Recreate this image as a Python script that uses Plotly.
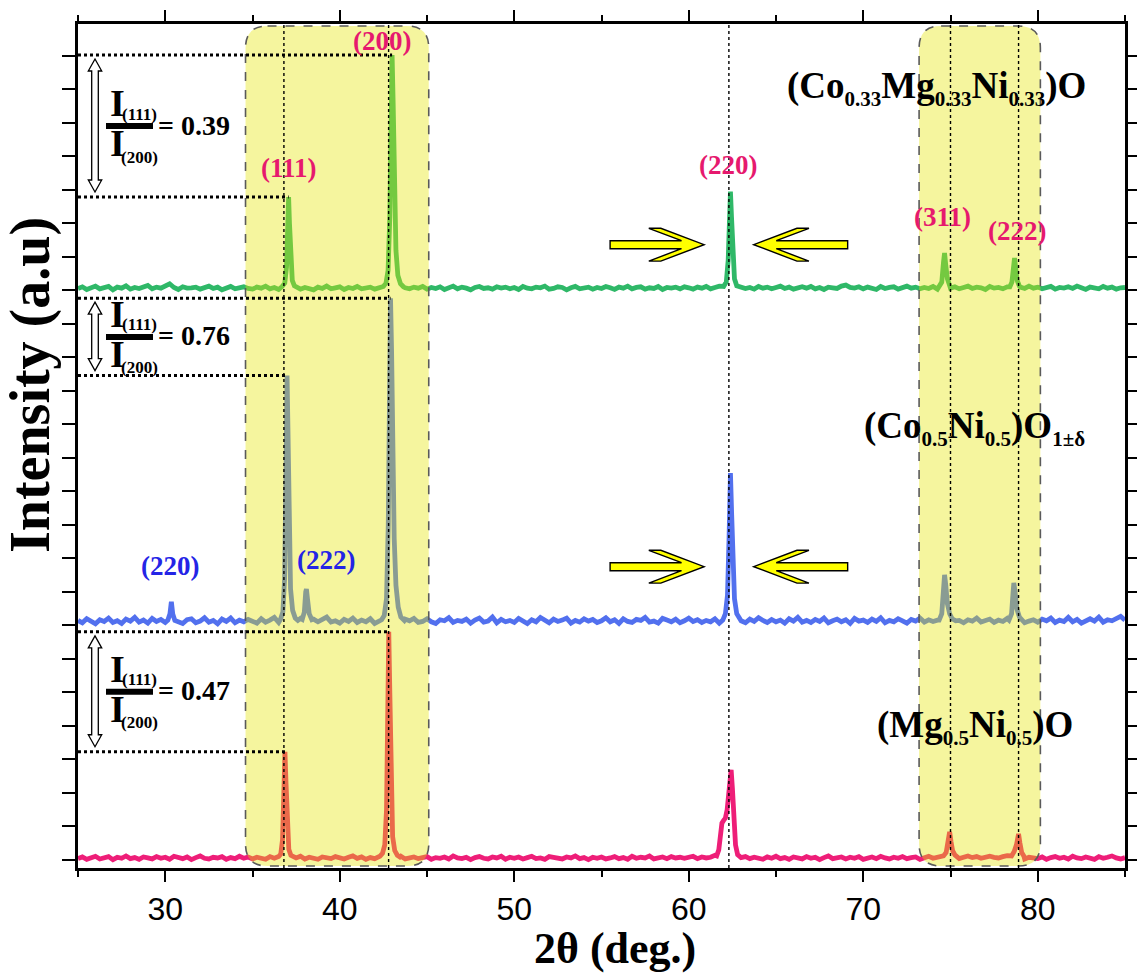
import plotly.graph_objects as go

# ---------------------------------------------------------------- data
# 2-theta sampling grid of the background scans (deg.)
two_theta_grid = [round(25 + 0.25 * i, 2) for i in range(241)]

# background counts on the grid, one row per 5 deg.
mg_ni_background = [
    4, 9, 2, 7, 11, 3, 6, 10, 1, 8, 5, 12, 4, 7, 2, 9, 6, 3, 10, 5,
    8, 2, 11, 6, 4, 9, 1, 7, 12, 5, 3, 8, 6, 10, 2, 7, 4, 11, 5, 9,
    3, 8, 6, 2, 10, 5, 7, 4, 9, 1, 6, 11, 3, 8, 5, 2, 9, 7, 4, 10,
    6, 3, 8, 12, 5, 9, 2, 7, 4, 10, 6, 1, 8, 5, 11, 3, 7, 9, 4, 6,
    10, 2, 7, 5, 9, 3, 12, 6, 4, 8, 1, 7, 10, 5, 3, 9, 6, 11, 2, 8,
    5, 9, 3, 7, 11, 4, 6, 2, 10, 8, 5, 3, 9, 6, 12, 4, 7, 1, 8, 5,
    9, 3, 6, 10, 4, 7, 2, 11, 5, 8, 6, 12, 3, 7, 9, 4, 10, 6, 8, 5,
    7, 11, 4, 9, 6, 8, 14, 10, 6, 5, 9, 3, 7, 10, 4, 8, 6, 2, 9, 5,
    11, 4, 7, 2, 9, 6, 3, 10, 5, 8, 1, 7, 12, 4, 6, 9, 3, 8, 5, 10,
    2, 7, 9, 4, 11, 6, 3, 8, 5, 10, 4, 7, 9, 2, 6, 11, 5, 8, 10, 7,
    6, 9, 4, 8, 12, 7, 10, 5, 9, 11, 8, 6, 10, 13, 9, 7, 5, 3, 8, 6,
    4, 9, 2, 7, 10, 5, 8, 3, 11, 6, 4, 9, 7, 2, 10, 5, 8, 12, 6, 3,
    7,
]
co_ni_background = [
    15, 8, 20, 11, 5, 17, 12, 22, 9, 14, 6, 19, 13, 24, 10, 16, 7, 21, 12, 18,
    9, 14, 25, 11, 6, 17, 20, 8, 13, 23, 10, 15, 5, 19, 12, 22, 8, 16, 11, 18,
    13, 7, 20, 10, 16, 24, 9, 14, 18, 6, 12, 21, 15, 8, 19, 11, 17, 25, 10, 14,
    7, 18, 12, 22, 9, 16, 11, 20, 6, 15, 13, 24, 8, 17, 10, 19, 14, 21, 9, 12,
    20, 11, 6, 17, 14, 23, 9, 15, 12, 19, 7, 16, 22, 10, 13, 25, 8, 18, 11, 15,
    9, 21, 13, 6, 17, 11, 24, 14, 8, 19, 12, 16, 22, 7, 15, 10, 20, 13, 18, 9,
    14, 23, 11, 17, 6, 20, 12, 9, 18, 15, 24, 10, 13, 7, 21, 16, 11, 19, 8, 14,
    22, 12, 17, 9, 15, 11, 20, 7, 16, 13, 21, 10, 14, 8, 19, 12, 23, 15, 9, 18,
    11, 16, 7, 20, 13, 24, 10, 15, 9, 18, 12, 22, 8, 14, 19, 11, 17, 6, 21, 13,
    16, 9, 19, 12, 23, 8, 15, 11, 20, 14, 7, 18, 13, 22, 10, 17, 12, 16, 9, 14,
    20, 11, 15, 8, 17, 13, 22, 10, 14, 19, 9, 16, 12, 21, 11, 15, 18, 8, 13, 17,
    10, 19, 14, 22, 9, 16, 12, 24, 11, 18, 7, 15, 20, 13, 25, 10, 17, 14, 21, 27,
    16,
]
co_mg_ni_background = [
    6, 11, 3, 9, 13, 5, 8, 12, 2, 10, 7, 14, 4, 9, 6, 11, 15, 5, 10, 7,
    12, 20, 9, 3, 11, 7, 8, 10, 4, 8, 13, 6, 10, 2, 9, 12, 5, 8, 11, 6,
    4, 10, 7, 13, 5, 9, 3, 11, 8, 6, 12, 4, 9, 7, 2, 10, 6, 13, 5, 8,
    11, 3, 9, 6, 12, 5, 8, 10, 4, 7, 13, 6, 9, 3, 11, 8, 5, 10, 7, 12,
    4, 9, 6, 11, 3, 8, 13, 5, 10, 7, 2, 9, 12, 6, 8, 4, 11, 7, 10, 5,
    9, 3, 12, 7, 5, 10, 8, 13, 4, 6, 11, 9, 2, 8, 12, 5, 7, 10, 4, 9,
    6, 12, 8, 3, 10, 7, 13, 5, 9, 11, 4, 8, 6, 12, 3, 9, 7, 10, 5, 11,
    8, 4, 10, 7, 12, 5, 9, 13, 6, 10, 3, 8, 11, 6, 9, 4, 12, 7, 10, 5,
    9, 13, 6, 10, 4, 8, 11, 7, 12, 5, 9, 3, 10, 8, 6, 13, 16, 9, 7, 11,
    5, 10, 8, 3, 12, 6, 9, 11, 4, 8, 13, 7, 10, 5, 9, 6, 12, 4, 8, 10,
    7, 11, 5, 9, 13, 6, 10, 8, 3, 12, 7, 9, 5, 11, 8, 4, 10, 6, 13, 7,
    10, 5, 8, 12, 4, 9, 7, 11, 6, 13, 8, 3, 10, 9, 5, 12, 7, 10, 4, 8,
    9,
]

# diffraction peaks: (2theta, counts) points across each reflection
mg_ni_peaks = [
    [(36.5, 10), (36.62, 18), (36.72, 60), (36.8, 200), (36.86, 323), (36.92, 230),
     (36.99, 95), (37.08, 32), (37.2, 14), (37.35, 9)],                                   # (111)
    [(42.3, 11), (42.45, 20), (42.58, 45), (42.68, 150), (42.75, 420), (42.81, 681),
     (42.87, 500), (42.94, 200), (43.03, 70), (43.15, 28), (43.3, 14), (43.45, 9)],        # (200)
    [(61.6, 12), (61.72, 30), (61.8, 85), (61.9, 110), (62.0, 118), (62.1, 125),
     (62.2, 150), (62.3, 215), (62.38, 262), (62.43, 269), (62.5, 215), (62.58, 120),
     (62.68, 45), (62.8, 16), (62.95, 9)],                                                 # (220)
    [(74.6, 12), (74.75, 22), (74.85, 45), (74.95, 84), (75.03, 55), (75.12, 28),
     (75.25, 15), (75.4, 10)],                                                             # (311)
    [(78.5, 12), (78.65, 25), (78.78, 45), (78.9, 78), (78.98, 50), (79.08, 22),
     (79.2, 12)],                                                                          # (222)
]
co_ni_peaks = [
    [(30.15, 16), (30.27, 35), (30.35, 71), (30.43, 34), (30.55, 15)],                    # spinel (220)
    [(36.6, 18), (36.74, 40), (36.84, 140), (36.92, 450), (36.98, 746), (37.04, 560),
     (37.1, 260), (37.18, 110), (37.3, 45), (37.45, 22), (37.6, 15)],                      # (111)
    [(37.85, 18), (37.97, 40), (38.05, 100), (38.09, 109), (38.15, 80), (38.25, 35),
     (38.4, 17)],                                                                          # spinel (222)
    [(42.4, 17), (42.55, 30), (42.68, 80), (42.78, 300), (42.85, 720), (42.91, 977),
     (42.97, 820), (43.04, 520), (43.12, 260), (43.22, 120), (43.35, 55), (43.5, 25),
     (43.7, 15)],                                                                          # (200)
    [(61.95, 16), (62.1, 35), (62.22, 90), (62.31, 260), (62.39, 455), (62.46, 330),
     (62.53, 190), (62.62, 80), (62.75, 35), (62.9, 17)],                                  # (220)
    [(74.35, 16), (74.5, 35), (74.6, 110), (74.66, 151), (74.73, 120), (74.82, 65),
     (74.95, 35), (75.1, 20), (75.3, 14)],                                                 # (311)
    [(78.35, 16), (78.5, 35), (78.58, 95), (78.63, 127), (78.7, 100), (78.8, 50),
     (78.95, 25), (79.1, 15)],                                                             # (222)
]
co_mg_ni_peaks = [
    [(36.7, 12), (36.85, 22), (36.95, 70), (37.02, 190), (37.07, 279), (37.12, 200),
     (37.19, 80), (37.28, 30), (37.4, 14), (37.55, 10)],                                   # (111)
    [(42.5, 12), (42.65, 22), (42.77, 60), (42.87, 220), (42.94, 520), (43.0, 703),
     (43.06, 560), (43.13, 300), (43.22, 120), (43.33, 45), (43.48, 20), (43.65, 11)],     # (200)
    [(62.0, 12), (62.15, 25), (62.26, 90), (62.33, 210), (62.39, 295), (62.45, 220),
     (62.52, 100), (62.62, 35), (62.75, 14)],                                              # (220)
    [(74.35, 11), (74.5, 25), (74.6, 85), (74.66, 112), (74.72, 80), (74.82, 35),
     (74.95, 15)],                                                                         # (311)
    [(78.4, 11), (78.52, 25), (78.62, 75), (78.67, 97), (78.73, 70), (78.82, 30),
     (78.95, 13)],                                                                         # (222)
]

sample_names = ["(Mg0.5Ni0.5)O", "(Co0.5Ni0.5)O1±δ", "(Co0.33Mg0.33Ni0.33)O"]
stack_offsets = [0, 700, 1700]
ratio_labels = ["0.47", "0.76", "0.39"]      # I(111)/I(200)
reference_positions = [36.8, 42.8, 62.3, 75.0, 78.9]
highlight_bands = [(34.6, 45.1), (73.2, 80.15)]
x_tick_values = [30, 40, 50, 60, 70, 80]

# ---------------------------------------------------------------- geometry
W, H = 1137, 975
ML, MR, MT, MB = 78, 12, 24, 107
X_RANGE = (25, 85)
Y_RANGE = (-24, 2495.5)
DPP = (X_RANGE[1] - X_RANGE[0]) / (W - ML - MR)     # degrees per pixel
CPP = (Y_RANGE[1] - Y_RANGE[0]) / (H - MT - MB)     # counts per pixel


def px_x(px):
    return X_RANGE[0] + (px - ML) * DPP


def px_y(py):
    return Y_RANGE[0] + (H - MB - py) * CPP


def assemble(background, peaks):
    spans = [(seg[0][0], seg[-1][0]) for seg in peaks]
    pts = [(x, y) for x, y in zip(two_theta_grid, background)
           if not any(a <= x <= b for a, b in spans)]
    for seg in peaks:
        pts.extend(seg)
    pts.sort()
    return [p[0] for p in pts], [p[1] for p in pts]


def peak_top(peaks, index):
    seg = peaks[index]
    return max(seg, key=lambda p: p[1])


def path_of(points):
    return "M " + " L ".join(f"{x:.4f},{y:.3f}" for x, y in points) + " Z"


def rounded_rect(x0, x1, y0, y1, r_px):
    rx, ry = r_px * DPP, r_px * CPP
    return (f"M {x0 + rx},{y1} L {x1 - rx},{y1} Q {x1},{y1} {x1},{y1 - ry} "
            f"L {x1},{y0 + ry} Q {x1},{y0} {x1 - rx},{y0} L {x0 + rx},{y0} "
            f"Q {x0},{y0} {x0},{y0 + ry} L {x0},{y1 - ry} Q {x0},{y1} {x0 + rx},{y1} Z")


def block_arrow(tip_x, y, direction):
    # chevron-headed arrow, outline given in pixels relative to the tip
    outline = [(-94, 4), (-22.6, 4), (-55.3, 16.4), (-43.3, 16.4), (0, 0),
               (-43.3, -16.4), (-55.3, -16.4), (-22.6, -4), (-94, -4)]
    return path_of([(tip_x + direction * dx * DPP, y + dy * CPP) for dx, dy in outline])


def double_arrow(cx_px, top, bottom):
    cx = px_x(cx_px)
    hw, sw, hl = 6.7 * DPP, 3.3 * DPP, 12 * CPP
    pts = [(cx, top), (cx + hw, top - hl), (cx + sw, top - hl), (cx + sw, bottom + hl),
           (cx + hw, bottom + hl), (cx, bottom), (cx - hw, bottom + hl),
           (cx - sw, bottom + hl), (cx - sw, top - hl), (cx - hw, top - hl)]
    return path_of(pts)


# ---------------------------------------------------------------- traces
SERIF = "Liberation Serif"
colors = ["#EE1E78", "#5270EE", "#2FB868"]
backgrounds = [mg_ni_background, co_ni_background, co_mg_ni_background]
peak_sets = [mg_ni_peaks, co_ni_peaks, co_mg_ni_peaks]

fig = go.Figure()
for name, bg, pk, off, col in zip(sample_names, backgrounds, peak_sets, stack_offsets, colors):
    xs, ys = assemble(bg, pk)
    fig.add_trace(go.Scatter(x=xs, y=[v + off for v in ys], mode="lines", name=name,
                             line=dict(color=col, width=4.8), showlegend=False,
                             hoverinfo="skip"))

shapes = []
annotations = []

# translucent highlight bands over the patterns
for x0, x1 in highlight_bands:
    shapes.append(dict(type="path", xref="x", yref="y", layer="above",
                       path=rounded_rect(x0, x1, px_y(866), px_y(26), 22),
                       fillcolor="rgba(228,228,0,0.38)",
                       line=dict(color="#5a5a5a", width=1.6, dash="dash")))

# reference line positions
for pos in reference_positions:
    shapes.append(dict(type="line", xref="x", yref="paper", x0=pos, x1=pos, y0=0, y1=1,
                       layer="above", line=dict(color="black", width=1.4, dash="dot")))

# intensity-ratio markers: indices of the (111) and (200) reflections in each peak list
ratio_peak_index = [(0, 1), (1, 3), (0, 1)]
for pk, off, (i111, i200), ratio in zip(peak_sets, stack_offsets, ratio_peak_index, ratio_labels):
    x111, y111 = peak_top(pk, i111)
    x200, y200 = peak_top(pk, i200)
    y111 += off
    y200 += off
    for xp, yp in ((x111, y111), (x200, y200)):
        shapes.append(dict(type="line", xref="x", yref="y", x0=X_RANGE[0], x1=xp, y0=yp, y1=yp,
                           layer="above", line=dict(color="black", width=3, dash="dot")))
    shapes.append(dict(type="path", xref="x", yref="y", layer="above",
                       path=double_arrow(95, y200 - 4 * CPP, y111 + 5 * CPP),
                       fillcolor="white", line=dict(color="black", width=1.3)))
    mid = (y111 + y200) / 2
    shapes.append(dict(type="line", xref="x", yref="y", x0=px_x(106), x1=px_x(153),
                       y0=mid, y1=mid, layer="above", line=dict(color="black", width=6)))
    for text, xpx, dypx, size in (("I", 117, 23, 38), ("(111)", 139, 12, 17),
                                  ("I", 117, -17, 38), ("(200)", 139, -31, 17)):
        annotations.append(dict(x=px_x(xpx), y=mid + dypx * CPP, xref="x", yref="y",
                                text=text, showarrow=False, xanchor="center", yanchor="middle",
                                font=dict(family=SERIF, size=size, color="black", weight="bold")))
    annotations.append(dict(x=px_x(156), y=mid + 1 * CPP, xref="x", yref="y",
                            text="= " + ratio, showarrow=False, xanchor="left", yanchor="middle",
                            font=dict(family=SERIF, size=28, color="black", weight="bold")))

# yellow arrows pointing at the (220) reflection
arrow_levels = [px_y(244.7), px_y(566.7)]
for yl in arrow_levels:
    for tip, d in ((reference_positions[2] - 1.42, 1), (reference_positions[2] + 1.42, -1)):
        shapes.append(dict(type="path", xref="x", yref="y", layer="above",
                           path=block_arrow(tip, yl, d), fillcolor="#FFFF00",
                           line=dict(color="black", width=1.4)))

# reflection indices
PINK, BLUE = "#E6196E", "#2424E6"
hkl_labels = [("(200)", 382, 41, PINK), ("(111)", 289, 168, PINK), ("(220)", 728, 165, PINK),
              ("(311)", 942, 217, PINK), ("(222)", 1017, 231, PINK),
              ("(220)", 170, 566, BLUE), ("(222)", 326, 560, BLUE)]
for text, xpx, ypx, col in hkl_labels:
    annotations.append(dict(x=px_x(xpx), y=px_y(ypx), xref="x", yref="y", text=text,
                            showarrow=False, xanchor="center", yanchor="middle",
                            font=dict(family=SERIF, size=27, color=col, weight="bold")))

# sample names
SUB = '<sub><span style="font-size:21px">{}</span></sub>'
name_labels = [
    ("(Mg" + SUB.format("0.5") + "Ni" + SUB.format("0.5") + ")O", 875, 727),
    ("(Co" + SUB.format("0.5") + "Ni" + SUB.format("0.5") + ")O" + SUB.format("1±δ"), 862, 428),
    ("(Co" + SUB.format("0.33") + "Mg" + SUB.format("0.33") + "Ni" + SUB.format("0.33") + ")O",
     785, 88),
]
for text, xpx, ypx in name_labels:
    annotations.append(dict(x=px_x(xpx), y=px_y(ypx), xref="x", yref="y", text=text,
                            showarrow=False, xanchor="left", yanchor="middle",
                            font=dict(family=SERIF, size=37, color="black", weight="bold")))

# axis titles
annotations.append(dict(x=(615 - ML) / (W - ML - MR), y=-(949 - (H - MB)) / (H - MT - MB),
                        xref="paper", yref="paper", text="2θ (deg.)", showarrow=False,
                        xanchor="center", yanchor="middle",
                        font=dict(family=SERIF, size=44, color="black", weight="bold")))
annotations.append(dict(x=-(ML - 30) / (W - ML - MR), y=(H - MB - 385) / (H - MT - MB),
                        xref="paper", yref="paper", text="Intensity (a.u)", showarrow=False,
                        textangle=-90, xanchor="center", yanchor="middle",
                        font=dict(family=SERIF, size=56, color="black", weight="bold")))

fig.update_layout(
    width=W, height=H,
    margin=dict(l=ML, r=MR, t=MT, b=MB, pad=0, autoexpand=False),
    paper_bgcolor="white", plot_bgcolor="white",
    shapes=shapes, annotations=annotations,
    xaxis=dict(range=list(X_RANGE), tickvals=x_tick_values, ticks="outside", ticklen=11,
               tickwidth=2.2, tickcolor="black", showline=True, linecolor="black",
               linewidth=2.5, mirror="ticks", showgrid=False, zeroline=False,
               automargin=False,
               minor=dict(dtick=5, tick0=25, ticks="outside", ticklen=6, tickwidth=2,
                          tickcolor="black", showgrid=False),
               tickfont=dict(family="Liberation Sans Narrow, Liberation Sans", size=32,
                             color="black")),
    yaxis=dict(range=list(Y_RANGE), dtick=100, tick0=0, ticks="outside", ticklen=13,
               tickwidth=2, tickcolor="black", showticklabels=False, showline=True,
               linecolor="black", linewidth=2.5, mirror="ticks", showgrid=False,
               zeroline=False, automargin=False),
)

fig.write_html("out.html")
